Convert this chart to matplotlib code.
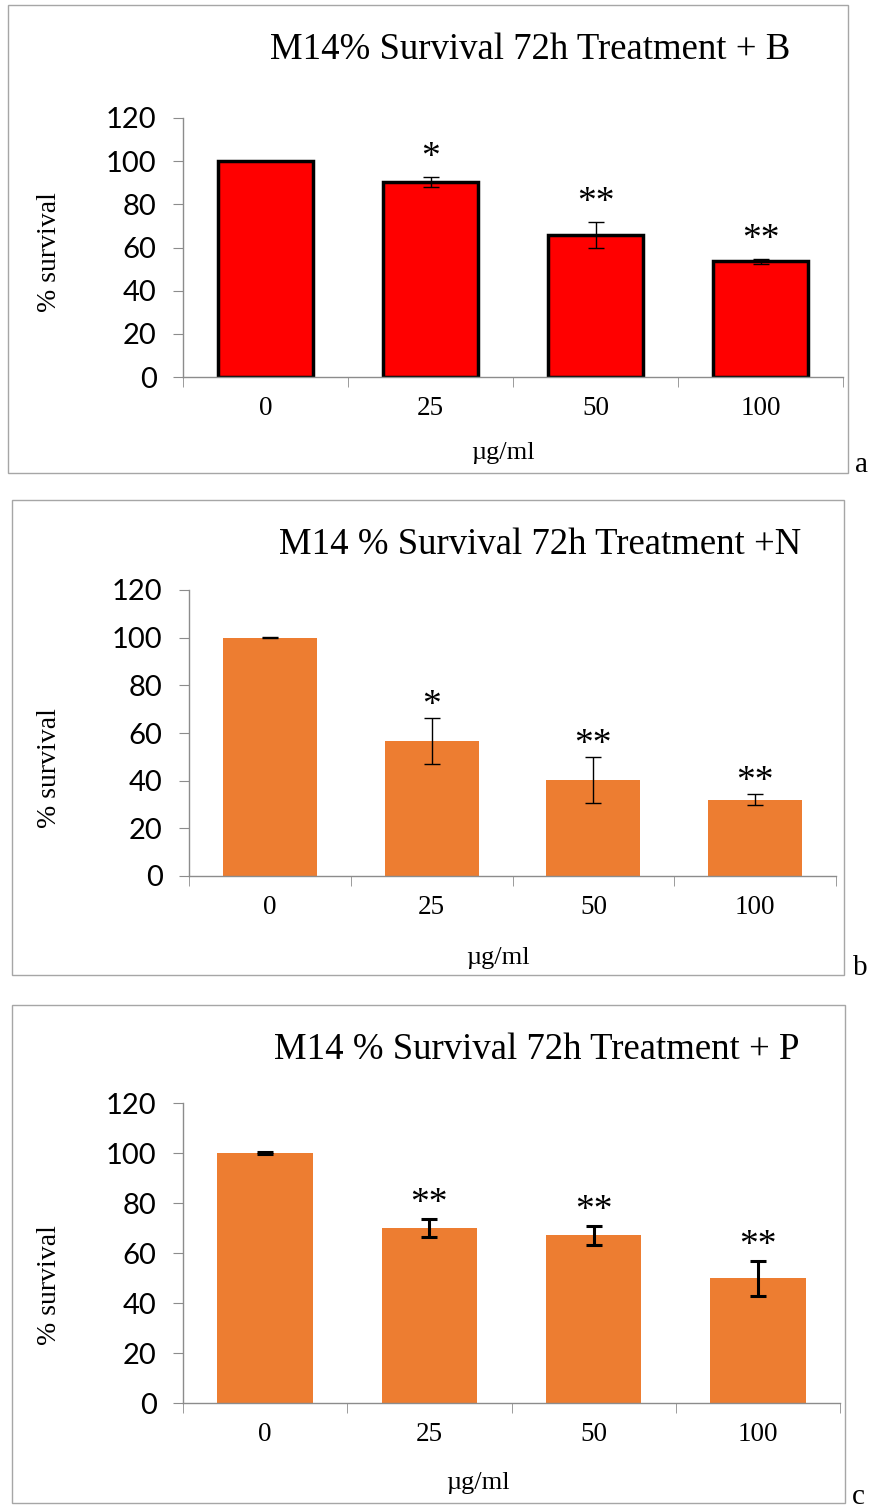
import matplotlib
matplotlib.use("Agg")
import matplotlib.pyplot as plt
from matplotlib.patches import Rectangle

W, H = 874, 1508

doses = ["0", "25", "50", "100"]

# panel a (+B)
surv_b = [100, 90.4, 66.0, 53.7]
err_b = [0, 2.2, 6.0, 1.2]
stars_b = ["", "*", "**", "**"]

# panel b (+N)
surv_n = [100, 56.7, 40.3, 31.9]
err_n = [0.3, 9.5, 9.7, 2.3]
stars_n = ["", "*", "**", "**"]

# panel c (+P)
surv_p = [100, 70.0, 67.1, 50.0]
err_p = [0.4, 3.7, 3.8, 7.0]
stars_p = ["", "**", "**", "**"]

serif = "Liberation Serif"
sans = "Lato"
axcol = "#8c8c8c"


def fx(x):
    return x / W


def fy(y):
    return 1 - y / H


fig = plt.figure(figsize=(W / 100, H / 100), dpi=100)

panels = [
    dict(vals=surv_b, errs=err_b, stars=stars_b,
         title="M14% Survival 72h Treatment + B", letter="a",
         box=(8, 5, 848, 473), ax=(183, 118, 843, 377),
         title_xy=(530, 50), ylab_y=252, xlab_xy=(503, 453), letter_xy=(862, 465),
         color="#ff0000", edge="black", lw=2.5, elw=1.0, soff=10),
    dict(vals=surv_n, errs=err_n, stars=stars_n,
         title="M14 % Survival 72h Treatment +N", letter="b",
         box=(12, 500, 844, 975), ax=(189, 590, 836, 876),
         title_xy=(540, 545), ylab_y=768, xlab_xy=(498, 958), letter_xy=(860, 968),
         color="#ed7d31", edge="none", lw=0, elw=1.0, soff=3),
    dict(vals=surv_p, errs=err_p, stars=stars_p,
         title="M14 % Survival 72h Treatment + P", letter="c",
         box=(12, 1005, 845, 1503), ax=(183, 1103, 840, 1403),
         title_xy=(537, 1050), ylab_y=1285, xlab_xy=(478, 1483), letter_xy=(858, 1497),
         color="#ed7d31", edge="none", lw=0, elw=2.2, soff=6),
]

for p in panels:
    x0, y0, x1, y1 = p["box"]
    fig.patches.append(Rectangle((fx(x0), fy(y1)), fx(x1 - x0), (y1 - y0) / H,
                                 transform=fig.transFigure, fill=False,
                                 edgecolor="#a6a6a6", linewidth=1.0))
    l, t, r, b = p["ax"]
    ax = fig.add_axes([fx(l), fy(b), fx(r - l), (b - t) / H])
    xs = range(len(doses))
    ax.bar(xs, p["vals"], width=0.58, color=p["color"], edgecolor=p["edge"],
           linewidth=p["lw"], zorder=2)
    ax.errorbar(xs, p["vals"], yerr=p["errs"], fmt="none", ecolor="black",
                elinewidth=p["elw"], capsize=6, capthick=p["elw"], zorder=3)
    for i, s in enumerate(p["stars"]):
        if s:
            ax.annotate(s, (i, p["vals"][i] + p["errs"][i]), xytext=(0, p["soff"]),
                        textcoords="offset pixels", ha="center", va="baseline",
                        fontsize=27, family=serif)
    ax.set_xlim(-0.5, len(doses) - 0.5)
    ax.set_ylim(0, 120)
    ax.set_yticks(range(0, 121, 20))
    ax.set_xticks(list(xs))
    ax.set_xticklabels(doses, family=serif, fontsize=19.5)
    ax.set_xticks([i - 0.5 for i in range(len(doses) + 1)], minor=True)
    ax.tick_params(axis="x", which="major", length=0, pad=14)
    ax.tick_params(axis="x", which="minor", length=7, color=axcol, direction="out")
    ax.tick_params(axis="y", length=7, color=axcol, direction="out", pad=12)
    for lab in ax.get_yticklabels():
        lab.set_family(sans)
        lab.set_fontsize(21)
    for side in ["top", "right"]:
        ax.spines[side].set_visible(False)
    for side in ["left", "bottom"]:
        ax.spines[side].set_color(axcol)
        ax.spines[side].set_linewidth(1.0)
    ax.spines["bottom"].set_zorder(4)

    tx, ty = p["title_xy"]
    fig.text(fx(tx), fy(ty), p["title"], ha="center", va="center",
             fontsize=26.5, family=serif)
    fig.text(fx(50), fy(p["ylab_y"]), "% survival", rotation=90, ha="center",
             va="center", fontsize=20, family=serif)
    lx, ly = p["xlab_xy"]
    fig.text(fx(lx), fy(ly), "\u00b5g/ml", ha="center", va="center",
             fontsize=19, family=serif)
    ax_, ay_ = p["letter_xy"]
    fig.text(fx(ax_), fy(ay_), p["letter"], ha="center", va="center",
             fontsize=21, family=serif)

fig.savefig("out.png", dpi=100)
